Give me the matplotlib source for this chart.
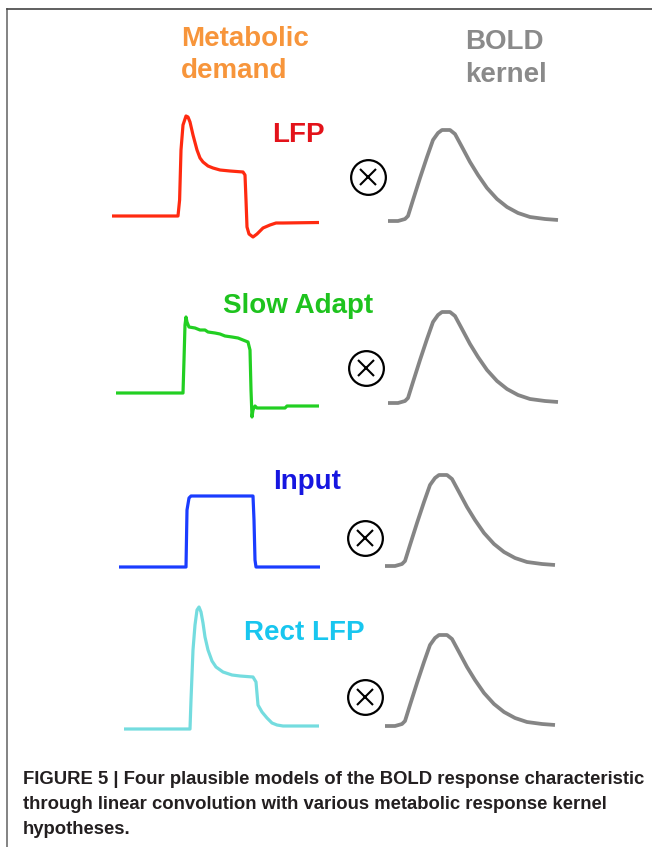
import matplotlib
matplotlib.use('Agg')
import matplotlib.pyplot as plt

plt.rcParams['font.family'] = ['Liberation Sans', 'DejaVu Sans']

W, H = 652, 847   # figure size in pixels

# metabolic demand waveforms (time in a.u., amplitude in a.u., baseline = 0)
lfpT = [0, 3.3, 3.38, 3.45, 3.55, 3.7, 3.8, 3.9, 4.05, 4.25, 4.4, 4.55, 4.8, 5.05,
        5.4, 5.9, 6.55, 6.65, 6.7, 6.75, 6.85, 7.05, 7.25, 7.55, 7.9, 8.2, 8.55, 10.35]
lfpV = [0, 0, 0.16, 0.66, 0.91, 1.0, 0.99, 0.94, 0.81, 0.66, 0.58, 0.54, 0.50, 0.48,
        0.46, 0.45, 0.44, 0.41, 0.16, -0.11, -0.18, -0.21, -0.18, -0.12, -0.09, -0.07, -0.07, -0.065]

slowT = [0.2, 3.55, 3.6, 3.65, 3.7, 3.75, 3.85, 4.15, 4.4, 4.65, 4.8, 5.15, 5.4, 5.65,
         6.0, 6.3, 6.55, 6.8, 6.9, 6.95, 7.0, 7.05, 7.15, 7.25, 8.65, 8.75, 10.35]
slowV = [0, 0, 0.33, 0.68, 0.76, 0.71, 0.66, 0.65, 0.63, 0.63, 0.61, 0.60, 0.59, 0.57,
         0.56, 0.55, 0.53, 0.51, 0.43, 0.03, -0.24, -0.17, -0.13, -0.15, -0.15, -0.13, -0.13]

inputT = [0.35, 3.7, 3.75, 3.85, 3.95, 7.05, 7.1, 7.15, 7.2, 10.4]
inputV = [0, 0, 0.57, 0.69, 0.71, 0.71, 0.47, 0.07, 0, 0]

rectT = [0.6, 3.9, 3.95, 4.05, 4.15, 4.25, 4.35, 4.45, 4.55, 4.65, 4.8, 5.0, 5.2, 5.55,
         6.0, 6.4, 7.05, 7.2, 7.3, 7.5, 7.75, 8.0, 8.25, 8.55, 10.35]
rectV = [0, 0, 0.29, 0.79, 1.04, 1.19, 1.22, 1.17, 1.06, 0.92, 0.79, 0.68, 0.62, 0.57,
         0.54, 0.53, 0.52, 0.47, 0.24, 0.17, 0.11, 0.06, 0.04, 0.03, 0.03]

# BOLD kernel (same for every row)
kernT = [0, 0.5, 0.85, 1.0, 1.25, 1.6, 1.95, 2.25, 2.5, 2.7, 3.1, 3.35, 3.7, 4.1,
         4.5, 4.95, 5.45, 5.95, 6.5, 7.1, 7.85, 8.5]
kernV = [0, 0, 0.02, 0.05, 0.21, 0.43, 0.64, 0.81, 0.88, 0.91, 0.91, 0.87, 0.74, 0.59,
         0.46, 0.33, 0.22, 0.14, 0.08, 0.04, 0.02, 0.01]

labels = ['LFP', 'Slow Adapt', 'Input', 'Rect LFP']
labelColors = ['#e3121a', '#1ec31e', '#1616e0', '#18c6ef']
lineColors = ['#ff2a10', '#22cf22', '#1a3cff', '#74dcdf']
series = [(lfpT, lfpV), (slowT, slowV), (inputT, inputV), (rectT, rectV)]

# layout (pixels)
demandX = 112                            # where t=0 sits for the demand panels
demandBase = [216, 393, 567, 729]
kernX = [388, 388, 385, 385]
kernBase = [221, 403, 566, 726]
labelPos = [(272, 142), (223, 313), (273, 489), (244, 640)]
otimesPos = [(368, 177), (366, 368), (365, 538), (365, 697)]
PX_T = 20.0    # pixels per time unit
PX_V = 100.0   # pixels per amplitude unit


def panel(fig, x0, base, t, v, color, lw):
    '''inset axes whose t=0, v=0 sits at pixel (x0, base)'''
    left, right = x0 - 15, x0 + 220
    top, bottom = base - 150, base + 40
    ax = fig.add_axes([left / W, 1 - bottom / H, (right - left) / W, (bottom - top) / H])
    ax.plot(t, v, color=color, lw=lw, solid_joinstyle='round', solid_capstyle='butt')
    ax.set_xlim((left - x0) / PX_T, (right - x0) / PX_T)
    ax.set_ylim((base - bottom) / PX_V, (base - top) / PX_V)
    ax.axis('off')
    return ax


fig = plt.figure(figsize=(W / 100, H / 100), dpi=100, facecolor='white')
bg = fig.add_axes([0, 0, 1, 1])
bg.set_xlim(0, W)
bg.set_ylim(H, 0)
bg.axis('off')

# frame lines (top and left only are visible)
bg.plot([7, 7], [9, H], color='#6e6e6e', lw=1.2)
bg.plot([7, W], [9, 9], color='#444444', lw=1.2)

# column headings
bg.text(181, 46, 'Metabolic', color='#f7953b', fontsize=20, fontweight='bold', va='baseline')
bg.text(181, 78, 'demand', color='#f7953b', fontsize=20, fontweight='bold', va='baseline')
bg.text(465, 49, 'BOLD', color='#8a8a8a', fontsize=20, fontweight='bold', va='baseline')
bg.text(465, 82, 'kernel', color='#8a8a8a', fontsize=20, fontweight='bold', va='baseline')

for i in range(4):
    t, v = series[i]
    panel(fig, demandX, demandBase[i], t, v, lineColors[i], 2.3)
    panel(fig, kernX[i], kernBase[i], kernT, kernV, '#858585', 2.7)
    lx, ly = labelPos[i]
    bg.text(lx, ly, labels[i], color=labelColors[i], fontsize=20, fontweight='bold', va='baseline')
    ox, oy = otimesPos[i]
    bg.plot(ox, oy, 'o', ms=25, mfc='none', mec='black', mew=1.6)
    bg.plot(ox, oy, 'x', ms=11, mec='black', mew=1.5)

# caption
caption = ['FIGURE 5 | Four plausible models of the BOLD response characteristic',
           'through linear convolution with various metabolic response kernel',
           'hypotheses.']
for j, line in enumerate(caption):
    bg.text(23, 784 + 25 * j, line, color='#231f20', fontsize=13.3, fontweight='bold', va='baseline')

fig.savefig('out.png', dpi=100, facecolor='white')
